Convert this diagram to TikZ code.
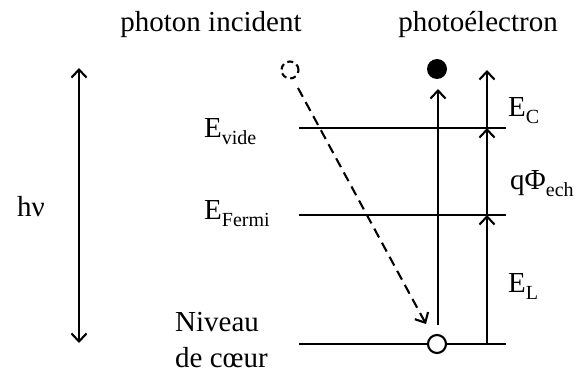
\documentclass[tikz,border=0pt]{standalone}
\usepackage{fontspec}
\setmainfont{Liberation Serif}
\usetikzlibrary{arrows.meta}
\newcommand\lvsub[1]{\raisebox{-7pt}{\fontsize{20}{20}\selectfont #1}}
\begin{document}
\begin{tikzpicture}[x=1pt,y=-1pt,
  lvl/.style={line width=2.1pt},
  arr/.style={line width=2.1pt,-{Straight Barb[length=8pt,width=15pt,line width=2.1pt]}},
  dbl/.style={line width=2.1pt,{Straight Barb[length=8pt,width=15pt,line width=2.1pt]}-{Straight Barb[length=8pt,width=15pt,line width=2.1pt]}},
  lbl/.style={inner sep=0pt,anchor=base west,font=\fontsize{29}{34}\selectfont},
  ttl/.style={inner sep=0pt,anchor=base,font=\fontsize{29}{34}\selectfont},
]
\useasboundingbox (0,0) rectangle (576,374);
% titles
\node[ttl] (tph) at (211,32) {photon incident};
\node[ttl] (tel) at (478,32) {photoélectron};
% level coordinates
\coordinate (vL) at (299,128); \coordinate (vR) at (506,128);
\coordinate (fL) at (299,215); \coordinate (fR) at (506,215);
\coordinate (cL) at (299,344); \coordinate (cR) at (506,344);
\draw[lvl] (vL) -- (vR);
\draw[lvl] (fL) -- (fR);
\draw[lvl] (cL) -- (cR);
% labels
\node[lbl] (lhv) at (17,217) {hν};
\node[lbl] (lvide) at (204,138) {E\lvsub{vide}};
\node[lbl] (lfermi) at (204,220) {E\lvsub{Fermi}};
\node[lbl] (lniv) at (175,331) {Niveau};
\node[lbl] (lcoeur) at (175,367) {de cœur};
\node[lbl] (lec) at (508,117) {E\lvsub{C}};
\node[lbl] (lphi) at (510,190) {qΦ\lvsub{ech}};
\node[lbl] (lel) at (508,293) {E\lvsub{L}};
% h nu arrow
\coordinate (hT) at (79,68); \coordinate (hB) at (79,343);
\draw[dbl] (hB) -- (hT);
% right arrows
\coordinate (r0) at (487,344); \coordinate (r1) at (487,215);
\coordinate (r2) at (487,128); \coordinate (r3) at (487,70);
\draw[arr] (r0) -- (r1);
\draw[arr] (r1) -- (r2);
\draw[arr] (r2) -- (r3);
% electron
\node[circle,fill=black,minimum size=20pt,inner sep=0pt] (el) at (437,69) {};
\coordinate (m0) at (438,325); \coordinate (m1) at (438,89);
\draw[arr] (m0) -- (m1);
% hole
\node[circle,draw,fill=white,line width=2.1pt,minimum size=18pt,inner sep=0pt] (hole) at (437,344) {};
% photon
\node[circle,draw,dash pattern=on 6pt off 4pt,line width=2.1pt,minimum size=17pt,inner sep=0pt] (ph) at (290,70) {};
\coordinate (d0) at (298,88); \coordinate (d1) at (426,324);
\draw[arr,dash pattern=on 10pt off 6pt] (d0) -- (d1);
\end{tikzpicture}
\end{document}
